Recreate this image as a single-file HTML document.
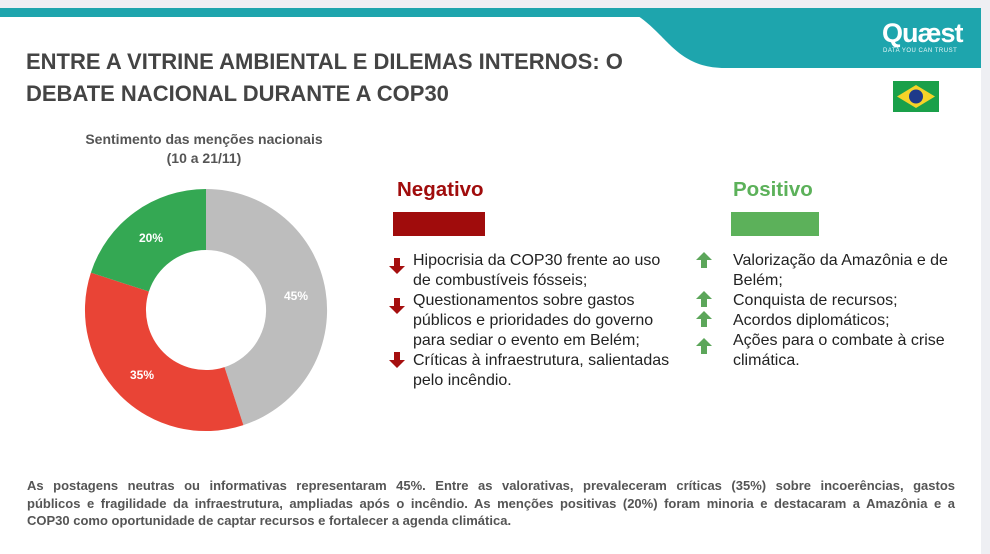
<!DOCTYPE html>
<html><head><meta charset="utf-8"><style>
body{margin:0;width:990px;height:554px;background:#eeeff3;position:relative;overflow:hidden;font-family:"Liberation Sans",Arial,sans-serif}
.card{position:absolute;left:0;top:8px;width:981px;height:546px;background:#fff}
.t{position:absolute;white-space:nowrap}
.li{position:absolute;font-size:16px;color:#222;line-height:20px}
.bl{text-align:justify;text-align-last:justify;white-space:nowrap}
</style></head><body>
<div class="card"></div>
<svg style="position:absolute;left:0;top:0" width="990" height="554">
<rect x="0" y="8" width="981" height="9" fill="#1ea5ad"/>
<path d="M620 8 L981 8 L981 68 L725 68 C690 68 675 50 660 35 C645 20 635 12 620 8 Z" fill="#1ea5ad"/>
<g transform="translate(206,310)">
<path d="M0 -121 A121 121 0 0 1 37.4 115.1 L18.5 57.1 A60 60 0 0 0 0 -60 Z" fill="#bdbdbd"/>
<path d="M37.4 115.1 A121 121 0 0 1 -115.1 -37.4 L-57.1 -18.5 A60 60 0 0 0 18.5 57.1 Z" fill="#e94436"/>
<path d="M-115.1 -37.4 A121 121 0 0 1 0 -121 L0 -60 A60 60 0 0 0 -57.1 -18.5 Z" fill="#34a853"/>
</g>
<g font-family="Liberation Sans" font-weight="bold" font-size="12" fill="#fff">
<text x="139" y="242">20%</text><text x="284" y="300">45%</text><text x="130" y="379">35%</text></g>
<rect x="893" y="81" width="46" height="31" fill="#1aa04a"/>
<polygon points="916,85 935,96.5 916,108 897,96.5" fill="#f5d328"/>
<circle cx="916" cy="96.5" r="7" fill="#1e3a8a"/>
<rect x="393" y="212" width="92" height="24" fill="#a00c0c"/>
<rect x="731" y="212" width="88" height="24" fill="#5cb15a"/>
<g fill="#a50f0f">
<path d="M394 258h6v8h5l-8 8-8-8h5z"/><path d="M394 298h6v8h5l-8 8-8-8h5z"/><path d="M394 352h6v8h5l-8 8-8-8h5z"/></g>
<g fill="#5ca65a">
<path d="M701 268h6v-8h5l-8-8-8 8h5z"/><path d="M701 307h6v-8h5l-8-8-8 8h5z"/><path d="M701 327h6v-8h5l-8-8-8 8h5z"/><path d="M701 354h6v-8h5l-8-8-8 8h5z"/></g>
</svg>
<div class="t" style="left:882px;top:18px;color:#fff;font-size:27px;font-weight:bold;letter-spacing:-1px">Quæst</div>
<div class="t" style="left:883px;top:48px;color:#e8f7f8;font-size:6px;letter-spacing:.5px">DATA YOU CAN TRUST</div>
<div class="t" style="left:26px;top:46px;font-size:22px;font-weight:bold;color:#444;line-height:32px">ENTRE A VITRINE AMBIENTAL E DILEMAS INTERNOS: O<br>DEBATE NACIONAL DURANTE A COP30</div>
<div class="t" style="left:0;width:408px;top:130px;text-align:center;font-size:14px;font-weight:bold;color:#555;line-height:19px">Sentimento das menções nacionais<br>(10 a 21/11)</div>
<div class="t" style="left:397px;top:178px;font-size:20.5px;font-weight:bold;color:#a00c0c">Negativo</div>
<div class="t" style="left:733px;top:178px;font-size:20.5px;font-weight:bold;color:#5cb15a">Positivo</div>
<div class="li" style="left:413px;top:251px">Hipocrisia da COP30 frente ao uso<br>de combustíveis fósseis;<br>Questionamentos sobre gastos<br>públicos e prioridades do governo<br>para sediar o evento em Belém;<br>Críticas à infraestrutura, salientadas<br>pelo incêndio.</div>
<div class="li" style="left:733px;top:251px">Valorização da Amazônia e de<br>Belém;<br>Conquista de recursos;<br>Acordos diplomáticos;<br>Ações para o combate à crise<br>climática.</div>
<div style="position:absolute;left:27px;top:477px;width:928px;font-size:13px;font-weight:bold;color:#555;line-height:17.5px">
<div class="bl">As postagens neutras ou informativas representaram 45%. Entre as valorativas, prevaleceram críticas (35%) sobre incoerências, gastos</div>
<div class="bl">públicos e fragilidade da infraestrutura, ampliadas após o incêndio. As menções positivas (20%) foram minoria e destacaram a Amazônia e a</div>
<div>COP30 como oportunidade de captar recursos e fortalecer a agenda climática.</div>
</div>
</body></html>
